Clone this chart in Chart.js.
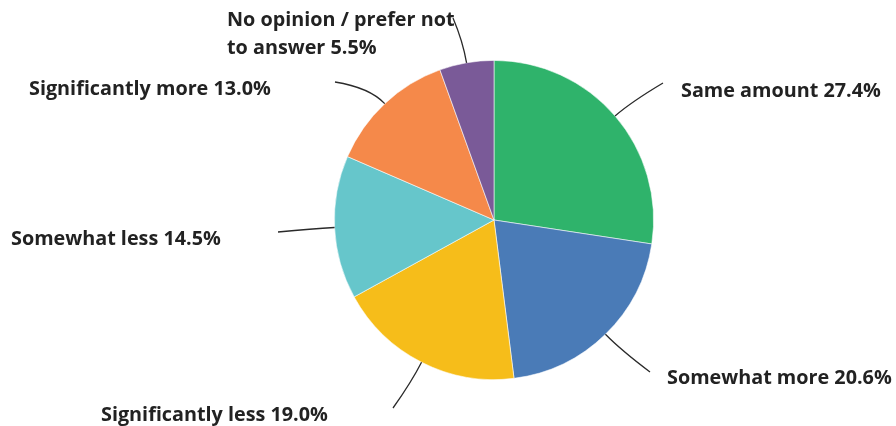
<!DOCTYPE html>
<html>
<head>
<meta charset="utf-8">
<script src="https://cdn.jsdelivr.net/npm/chart.js@4/dist/chart.umd.min.js"></script>
<style>
  html, body { margin: 0; padding: 0; background: #fff; }
  #wrap { width: 896px; height: 426px; }
</style>
</head>
<body>
<div id="wrap"><canvas id="pie"></canvas></div>
<script>
const categories = ["Same amount", "Somewhat more", "Significantly less", "Somewhat less", "Significantly more", "No opinion / prefer not to answer"]
const shares = [27.4, 20.6, 19.0, 14.5, 13.0, 5.5]
const colors = ["#2fb36b", "#4a7bb7", "#f6bd1a", "#66c6cb", "#f5894a", "#7a5a98"]

// label text lines and where each label sits (text anchor, leader line end)
const labelLines = [
  ["Same amount 27.4%"],
  ["Somewhat more 20.6%"],
  ["Significantly less 19.0%"],
  ["Somewhat less 14.5%"],
  ["Significantly more 13.0%"],
  ["No opinion / prefer not", "to answer 5.5%"],
]
const labelPos = [[681, 91], [667, 378], [101, 415], [11, 239], [29, 89], [227, 20]]
const lineEnd = [[663, 83], [650, 372], [393, 408], [278, 232], [335, 82], [453, 18]]

const leaderLabels = {
  id: "leaderLabels",
  afterDraw(chart) {
    const ctx = chart.ctx
    const arcs = chart.getDatasetMeta(0).data
    ctx.save()
    arcs.forEach((arc, i) => {
      const mid = (arc.startAngle + arc.endAngle) / 2
      const r = arc.outerRadius
      const sx = arc.x + Math.cos(mid) * r
      const sy = arc.y + Math.sin(mid) * r
      const cx = arc.x + Math.cos(mid) * (r + 22)
      const cy = arc.y + Math.sin(mid) * (r + 22)
      ctx.beginPath()
      ctx.moveTo(sx, sy)
      ctx.quadraticCurveTo(cx, cy, lineEnd[i][0], lineEnd[i][1])
      ctx.strokeStyle = "#2a2a2a"
      ctx.lineWidth = 1.3
      ctx.stroke()

      ctx.fillStyle = "#222"
      ctx.font = "bold 19.8px 'Open Sans'"
      ctx.textBaseline = "middle"
      ctx.textAlign = "left"
      labelLines[i].forEach((t, k) => {
        ctx.fillText(t, labelPos[i][0], labelPos[i][1] + k * 28)
      })
    })
    ctx.restore()
  },
}

new Chart(document.getElementById("pie"), {
  type: "pie",
  data: {
    labels: categories,
    datasets: [{
      data: shares,
      backgroundColor: colors,
      borderColor: "rgba(255,255,255,0.7)",
      borderWidth: 0.8,
    }],
  },
  options: {
    responsive: true,
    maintainAspectRatio: false,
    animation: false,
    layout: { padding: { top: 60, bottom: 46, left: 334, right: 242 } },
    plugins: {
      legend: { display: false },
      tooltip: { enabled: false },
    },
  },
  plugins: [leaderLabels],
})
</script>
</body>
</html>
